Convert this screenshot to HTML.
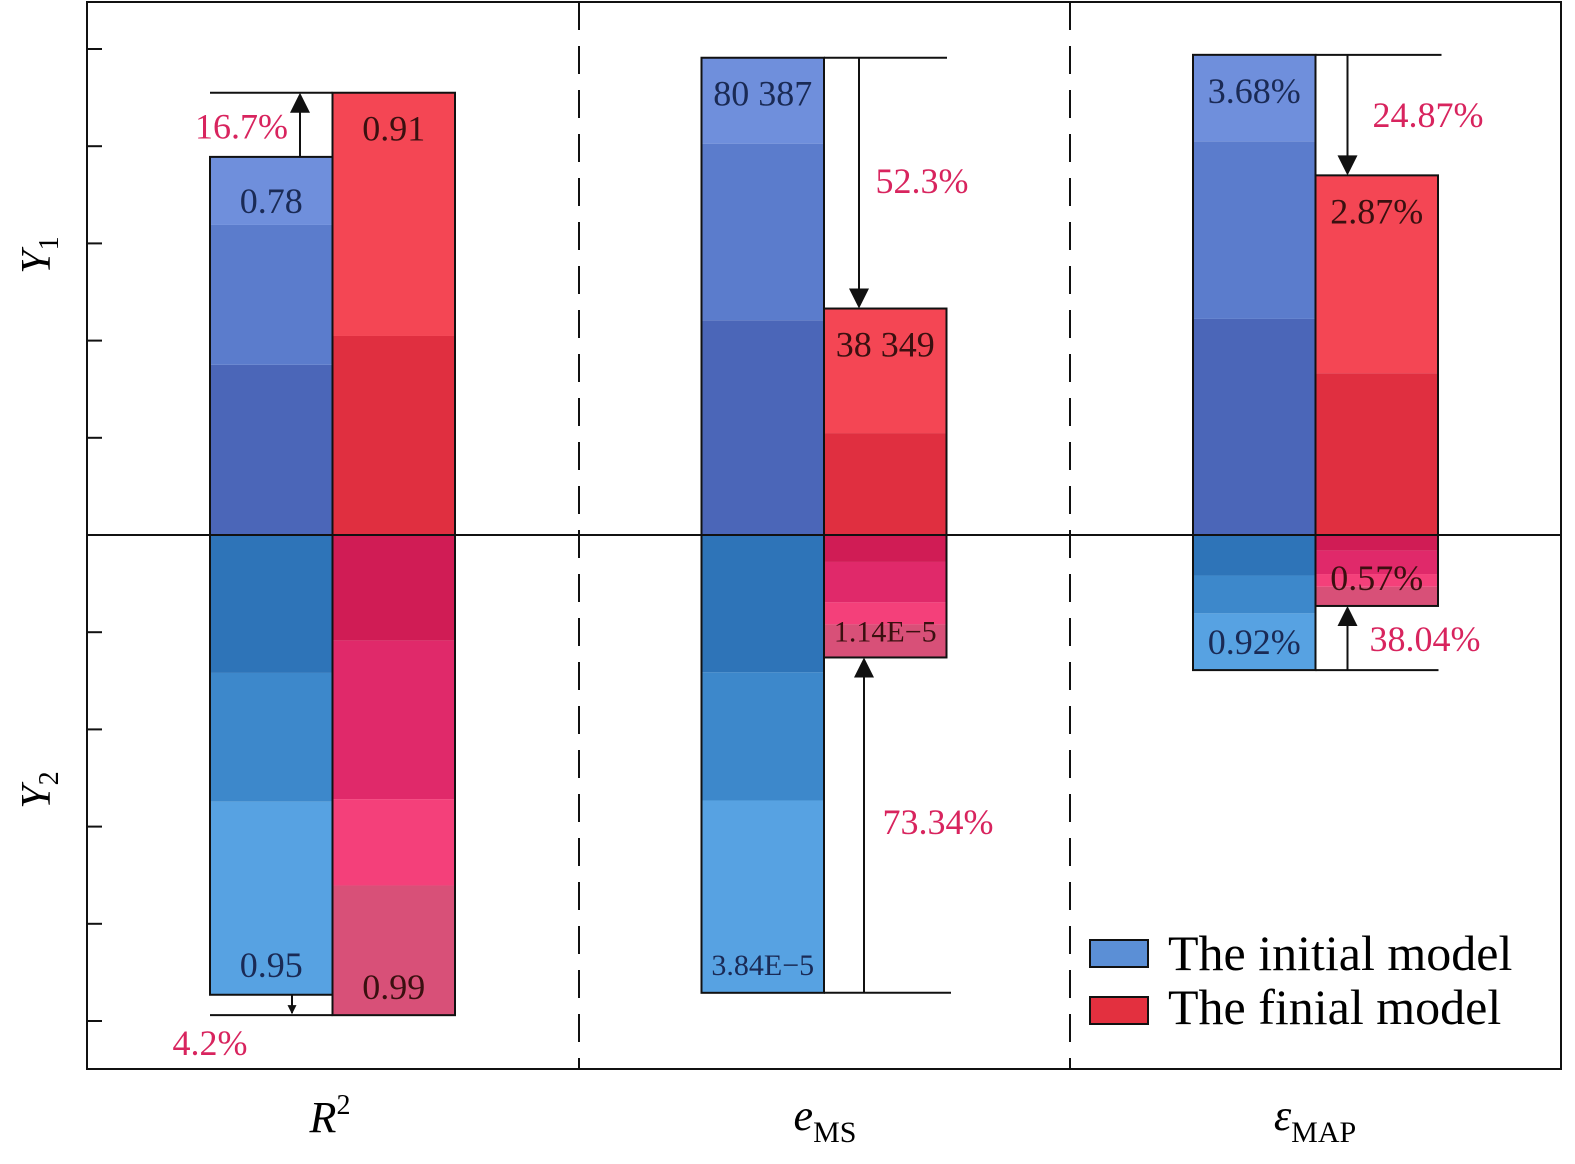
<!DOCTYPE html>
<html><head><meta charset="utf-8"><style>
body{margin:0;background:#fff}
svg{display:block;font-family:"Liberation Serif",serif}
text{font-family:"Liberation Serif",serif}
</style></head><body>
<svg id="c" width="1575" height="1164" viewBox="0 0 1575 1164" xmlns="http://www.w3.org/2000/svg">
<defs><marker id="ah" viewBox="0 0 10 10" refX="9" refY="5" markerWidth="20" markerHeight="9" markerUnits="userSpaceOnUse" orient="auto-start-reverse"><path d="M0,0 L10,5 L0,10 z" fill="#111"/></marker>
<marker id="ahb" viewBox="0 0 10 10" refX="9" refY="5" markerWidth="40" markerHeight="20" markerUnits="userSpaceOnUse" orient="auto-start-reverse"><path d="M0,0 L10,5 L0,10 z" fill="#111"/></marker></defs>
<rect x="87" y="2" width="1474" height="1067" fill="#fff" stroke="#111" stroke-width="2"/>
<g id="bars"></g>
<g id="ann"></g>
<line x1="87" y1="535" x2="1561" y2="535" stroke="#111" stroke-width="2"/>
<line x1="579" y1="2" x2="579" y2="1069" stroke="#111" stroke-width="2" stroke-dasharray="28,16"/>
<line x1="1070" y1="2" x2="1070" y2="1069" stroke="#111" stroke-width="2" stroke-dasharray="28,16"/>
<g id="ticks"></g>
<text x="50" y="255" font-size="42" font-style="italic" transform="rotate(-90 50 255)" text-anchor="middle">Y<tspan font-size="28" font-style="normal" dy="8">1</tspan></text>
<text x="50" y="790" font-size="42" font-style="italic" transform="rotate(-90 50 790)" text-anchor="middle">Y<tspan font-size="28" font-style="normal" dy="8">2</tspan></text>
<text x="330" y="1132" font-size="44" text-anchor="middle" font-style="italic">R<tspan font-size="28" font-style="normal" dy="-18">2</tspan></text>
<text x="825" y="1130" font-size="44" text-anchor="middle"><tspan font-style="italic">e</tspan><tspan font-size="30" dy="12">MS</tspan></text>
<text x="1315" y="1130" font-size="44" text-anchor="middle"><tspan font-style="italic">ε</tspan><tspan font-size="30" dy="12">MAP</tspan></text>
<g>
<rect x="1090" y="940" width="58" height="27" fill="#5b8fd6" stroke="#111" stroke-width="2"/>
<text x="1168" y="970" font-size="50">The initial model</text>
<rect x="1090" y="997" width="58" height="27" fill="#e3303f" stroke="#111" stroke-width="2"/>
<text x="1168" y="1024" font-size="50">The finial model</text>
</g>
</svg>
<script>
const categories=["R2","eMS","eMAP"];
const initialUp=[3.89,4.91,4.94];
const finalUp=[4.55,2.33,3.70];
const initialDown=[4.73,4.71,1.39];
const finalDown=[4.94,1.26,0.73];
const initialUpLabels=["0.78","80 387","3.68%"];
const finalUpLabels=["0.91","38 349","2.87%"];
const initialDownLabels=["0.95","3.84E−5","0.92%"];
const finalDownLabels=["0.99","1.14E−5","0.57%"];
const upChange=["16.7%","52.3%","24.87%"];
const downChange=["4.2%","73.34%","38.04%"];
const tickValues=[-5,-4,-3,-2,-1,0,1,2,3,4,5];

const NS="http://www.w3.org/2000/svg";
const Y0=535,U=97.2;
const y=v=>Y0-v*U;
const groupX=i=>210+i*491.5;
const BW=122.5;
function mk(tag,attrs,parent){const e=document.createElementNS(NS,tag);for(const k in attrs)e.setAttribute(k,attrs[k]);parent.appendChild(e);return e;}
const bars=document.getElementById('bars'),ann=document.getElementById('ann'),ticks=document.getElementById('ticks');
tickValues.forEach(t=>{const l=mk('line',{x1:87,x2:102,y1:y(t),y2:y(t),stroke:'#111','stroke-width':2},ticks);

});
const blueUp=[["#4b66b8",0.45],["#5b7ccc",0.37],["#6f8fdc",0.18]];
const blueDn=[["#2e74b8",0.30],["#3d88cb",0.28],["#57a2e2",0.42]];
const redUp=[["#e02f40",0.45],["#f44654",0.55]];
const redDn=[["#d01c55",0.22],["#e0296a",0.33],["#f4407a",0.18],["#d85078",0.27]];
function bar(x,h,bands,dir,name){
  let acc=0;
  bands.forEach(([c,f])=>{const a=acc*h,b=(acc+f)*h;acc+=f;
    const y1=dir>0?y(b):y(-a),y2=dir>0?y(a):y(-b);
    const r=mk('rect',{x:x,y:y1,width:BW,height:y2-y1,fill:c},bars);
    
    });
  const top=dir>0?y(h):Y0,hh=h*U;
  const o=mk('rect',{x:x,y:top,width:BW,height:hh,fill:'none',stroke:'#111','stroke-width':2},bars);
  
  
}
function txt(x,yy,s,size,fill,name,anchor){const t=mk('text',{x:x,y:yy,'font-size':size,fill:fill,'text-anchor':anchor||'middle'},ann);t.textContent=s;
  
  }
function ln(x1,y1,x2,y2,arrow,name){const a={x1,y1,x2,y2,stroke:'#111','stroke-width':2};if(arrow)a['marker-end']=arrow==='big'?'url(#ahb)':'url(#ah)';const l=mk('line',a,ann);
  
  }
const pink="#d8245e";
categories.forEach((c,i)=>{
  const xb=groupX(i),xr=xb+BW;
  bar(xb,initialUp[i],blueUp,1,'bar-initial-y1-'+c);
  bar(xr,finalUp[i],redUp,1,'bar-final-y1-'+c);
  bar(xb,initialDown[i],blueDn,-1,'bar-initial-y2-'+c);
  bar(xr,finalDown[i],redDn,-1,'bar-final-y2-'+c);
  const small=c==="eMS";
  txt(xb+BW/2,y(initialUp[i])+(i===0?56:48),initialUpLabels[i],36,'#1a2a55','value-initial-y1');
  txt(xr+BW/2,y(finalUp[i])+48,finalUpLabels[i],36,'#3a1010','value-final-y1');
  txt(xb+BW/2,y(-initialDown[i])-(i===2?16:18),initialDownLabels[i],small?30:36,'#1a2a55','value-initial-y2');
  txt(xr+BW/2,y(-finalDown[i])-16,finalDownLabels[i],small?30:36,'#3a1010','value-final-y2');
  const hiU=Math.max(initialUp[i],finalUp[i]),loU=Math.min(initialUp[i],finalUp[i]);
  const hiD=Math.max(initialDown[i],finalDown[i]),loD=Math.min(initialDown[i],finalDown[i]);
  if(finalUp[i]>initialUp[i]){
    ln(xb,y(hiU),xr,y(hiU),false,'ref-line-y1');
    ln(xb+90,y(loU),xb+90,y(hiU)+2,'big','arrow-y1');
    txt(xb+78,y(hiU)+46,upChange[i],36,pink,'change-y1','end');
  } else {
    const ax=i===1?xr+35:xr+32;
    ln(xr,y(hiU),xr+(i===1?123:126),y(hiU),false,'ref-line-y1');
    ln(ax,y(hiU),ax,y(loU)-2,'big','arrow-y1');
    txt(i===1?922:1428,i===1?193:127,upChange[i],36,pink,'change-y1');
  }
  if(i===0){
    ln(xb,y(-hiD),xr,y(-hiD),false,'ref-line-y2');
    ln(xb+82,y(-loD),xb+82,y(-hiD)-2,true,'arrow-y2');
    txt(xb,y(-hiD)+40,downChange[i],36,pink,'change-y2');
  } else {
    const ax=i===1?xr+40:xr+32;
    ln(xr,y(-hiD),xr+(i===1?127:123),y(-hiD),false,'ref-line-y2');
    ln(ax,y(-hiD),ax,y(-loD)+2,'big','arrow-y2');
    txt(i===1?938:1425,i===1?834:651,downChange[i],36,pink,'change-y2');
  }
});
</script>
</body></html>
